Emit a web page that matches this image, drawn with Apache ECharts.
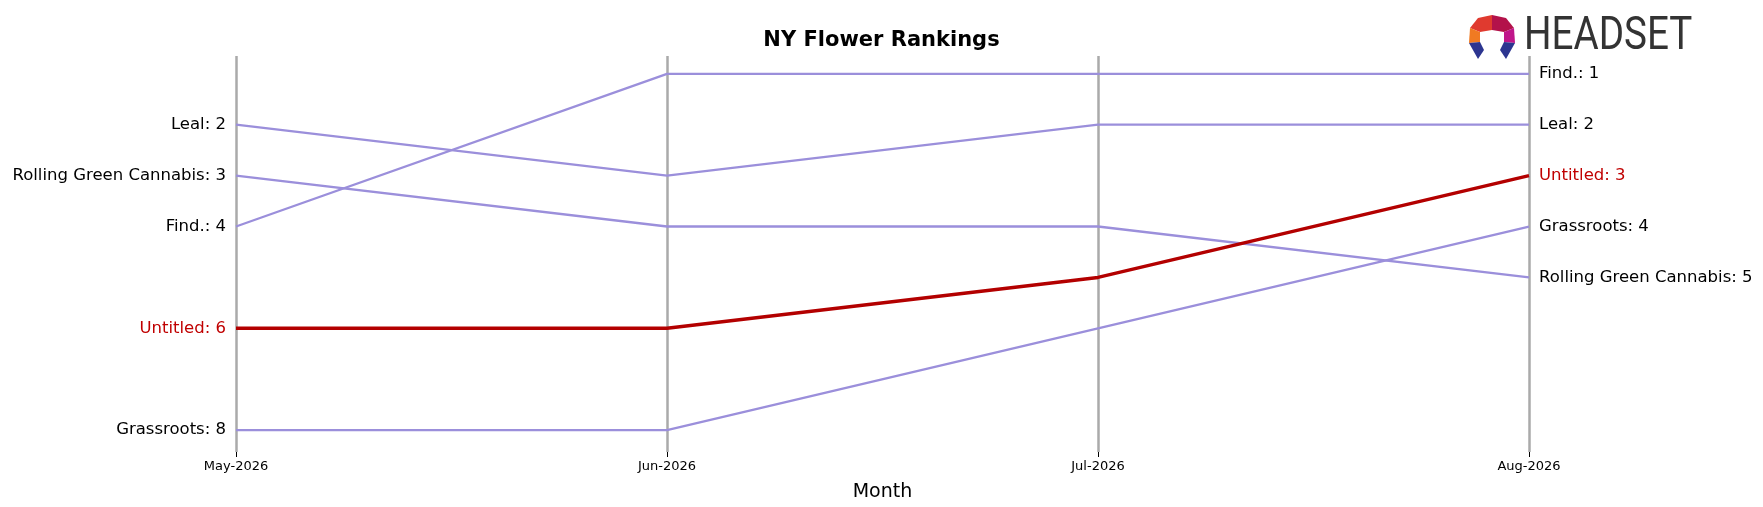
<!DOCTYPE html>
<html>
<head>
<meta charset="UTF-8">
<script src="https://cdn.jsdelivr.net/npm/echarts@6/dist/echarts.min.js"></script>
<style>html,body{margin:0;background:#fff}#c{width:1763px;height:507px}</style>
</head>
<body>
<div id="c"></div>
<script>
var months = ['May-2026', 'Jun-2026', 'Jul-2026', 'Aug-2026'];
var names = ['Find.', 'Leal', 'Rolling Green Cannabis', 'Grassroots', 'Untitled'];
var findRank = [4, 1, 1, 1];
var lealRank = [2, 3, 2, 2];
var rollingRank = [3, 4, 4, 5];
var grassRank = [8, 8, 6, 4];
var untitledRank = [6, 6, 5, 3];
var ranks = [findRank, lealRank, rollingRank, grassRank, untitledRank];

var series = [];
for (var i = 0; i < names.length; i++) {
  var hi = names[i] == 'Untitled';
  var col = hi ? '#b30000' : '#9b8fdb';
  var txt = hi ? '#c00000' : '#000';
  var d = ranks[i].map(function (v, k) {
    var o = {value: v};
    if (k == 0) o.label = {show: true, position: 'left', distance: 10, formatter: names[i] + ': ' + v, color: txt, fontSize: 16.5, fontFamily: 'DejaVu Sans'};
    return o;
  });
  series.push({
    name: names[i], type: 'line', data: d, symbol: 'circle', symbolSize: 0.01, showSymbol: true, z: hi ? 5 : 2,
    itemStyle: {color: col},
    lineStyle: {color: col, width: hi ? 3.5 : 2.3},
    endLabel: {show: true, distance: 10, formatter: names[i] + ': ' + ranks[i][3], color: txt, fontSize: 16.5, fontFamily: 'DejaVu Sans'},
    emphasis: {disabled: true}
  });
}

var chart = echarts.init(document.getElementById('c'));
chart.setOption({
  animation: false,
  title: {text: 'NY Flower Rankings', left: 'center', top: 25, textStyle: {fontFamily: 'DejaVu Sans', fontSize: 21, fontWeight: 'bold', color: '#000'}},
  grid: {left: 236, right: 234, top: 56, bottom: 55},
  xAxis: {
    type: 'category', data: months, boundaryGap: false,
    axisLine: {show: false},
    axisTick: {show: true, length: 5, lineStyle: {color: '#000'}},
    axisLabel: {fontSize: 13, color: '#000', fontFamily: 'DejaVu Sans', margin: 8},
    splitLine: {show: true, lineStyle: {color: '#aaaaaa', width: 2.5}},
    name: 'Month', nameLocation: 'middle', nameGap: 31,
    nameTextStyle: {fontSize: 19, color: '#000', fontFamily: 'DejaVu Sans'}
  },
  yAxis: {type: 'value', inverse: true, min: 0.65, max: 8.43, show: false},
  series: series,
  graphic: [
    {type: 'polygon', shape: {points: [[1470, 28], [1478, 18], [1492, 15], [1492, 30], [1480, 32]]}, style: {fill: '#e03a2f'}},
    {type: 'polygon', shape: {points: [[1492, 15], [1506, 18], [1514, 28], [1504, 32], [1492, 30]]}, style: {fill: '#b3124a'}},
    {type: 'polygon', shape: {points: [[1470, 28], [1480, 32], [1480, 42], [1469, 43]]}, style: {fill: '#f07a22'}},
    {type: 'polygon', shape: {points: [[1514, 28], [1504, 32], [1504, 42], [1515, 43]]}, style: {fill: '#c0168a'}},
    {type: 'polygon', shape: {points: [[1469, 43], [1480, 42], [1484, 50], [1478, 59]]}, style: {fill: '#2c3590'}},
    {type: 'polygon', shape: {points: [[1515, 43], [1504, 42], [1500, 50], [1506, 59]]}, style: {fill: '#2c3590'}},
    {type: 'text', left: 1524, top: 14, style: {text: 'HEADSET', fill: '#333', font: '46px Roboto'}, scaleX: 0.84}
  ]
});
</script>
</body>
</html>
